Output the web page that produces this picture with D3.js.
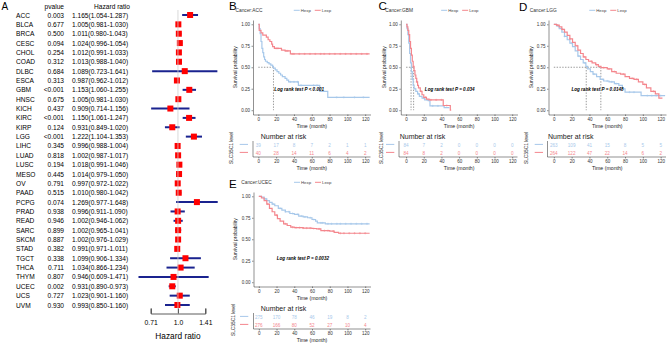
<!DOCTYPE html>
<html>
<head>
<meta charset="utf-8">
<script src="https://cdn.jsdelivr.net/npm/d3@7"></script>
<style>
body { margin: 0; background: #fff; }
svg { display: block; }
text { font-family: "Liberation Sans", Arial, sans-serif; }
</style>
</head>
<body>
<svg id="chart" width="668" height="346"></svg>
<script>
// ---------- panel A data (univariate cox)
const cancers = ["ACC","BLCA","BRCA","CESC","CHOL","COAD","DLBC","ESCA","GBM","HNSC","KICH","KIRC","KIRP","LGG","LIHC","LUAD","LUSC","MESO","OV","PAAD","PCPG","PRAD","READ","SARC","SKCM","STAD","TGCT","THCA","THYM","UCEC","UCS","UVM"];
const pvals = ["0.003","0.677","0.500","0.094","0.254","0.312","0.684","0.313","<0.001","0.675","0.437","<0.001","0.124","<0.001","0.345","0.818","0.194","0.445","0.791","0.515","0.074","0.938","0.946","0.899","0.887","0.382","0.338","0.711","0.807","0.002","0.727","0.930"];
const hr = [1.165,1.005,1.011,1.024,1.012,1.013,1.089,0.987,1.153,1.005,0.909,1.150,0.931,1.222,0.996,1.002,1.018,1.014,0.997,1.010,1.269,0.996,1.002,1.002,1.002,0.991,1.099,1.034,0.946,0.931,1.023,0.993];
const lo = [1.054,0.981,0.980,0.996,0.991,0.988,0.723,0.962,1.060,0.981,0.714,1.061,0.849,1.104,0.988,0.987,0.991,0.979,0.972,0.980,0.977,0.911,0.946,0.965,0.976,0.971,0.906,0.866,0.609,0.890,0.901,0.850];
const hi = [1.287,1.030,1.043,1.054,1.033,1.040,1.641,1.012,1.255,1.030,1.156,1.247,1.020,1.353,1.004,1.017,1.046,1.050,1.022,1.042,1.648,1.090,1.062,1.041,1.029,1.011,1.334,1.234,1.471,0.973,1.160,1.160];
const hrTicks = [0.71, 1.0, 1.41];

// ---------- survival panels data
const months = [0, 20, 40, 60, 80, 100, 120];
const survTicks = [0, 0.25, 0.5, 0.75, 1];

const accH = [[0,1],[1,0.95],[2,0.89],[3,0.80],[4,0.72],[5,0.67],[6,0.62],[7,0.59],[8,0.57],[10,0.555],[12,0.54],[14,0.525],[16,0.51],[17,0.49],[19,0.47],[21,0.45],[23,0.43],[25,0.41],[27,0.39],[30,0.37],[32,0.35],[34,0.33],[45,0.29],[69,0.22],[78,0.15],[125,0.15]];
const accL = [[0,1],[1,0.93],[3,0.90],[5,0.875],[9,0.85],[11,0.82],[13,0.80],[15,0.77],[16,0.74],[18,0.72],[26,0.70],[30,0.69],[36,0.655],[125,0.655]];
const gbmH = [[0,1],[1,0.95],[2,0.88],[3,0.78],[4,0.66],[5,0.55],[6,0.45],[7,0.36],[8,0.29],[9,0.25],[11,0.22],[13,0.19],[15,0.16],[18,0.14],[21,0.12],[25,0.11],[27,0.05],[43,0.03],[49,0.03]];
const gbmL = [[0,1],[1,0.97],[2,0.93],[3,0.88],[4,0.80],[5,0.72],[6,0.64],[7,0.57],[8,0.51],[9,0.46],[10,0.41],[11,0.37],[12,0.33],[13,0.29],[14,0.26],[16,0.22],[18,0.18],[20,0.15],[23,0.13],[26,0.12],[42,0.055],[50,0],[51,0]];
const lggH = [[0,1],[3,0.98],[6,0.95],[9,0.91],[12,0.86],[15,0.82],[18,0.78],[21,0.74],[24,0.69],[27,0.63],[30,0.59],[33,0.55],[36,0.51],[38,0.48],[41,0.45],[44,0.42],[48,0.39],[52,0.36],[56,0.34],[62,0.33],[68,0.31],[73,0.29],[77,0.25],[80,0.21],[98,0.17],[125,0.17]];
const lggL = [[0,1],[3,0.99],[6,0.97],[9,0.94],[12,0.91],[15,0.87],[18,0.83],[21,0.79],[24,0.75],[27,0.70],[30,0.66],[33,0.62],[36,0.59],[39,0.57],[43,0.55],[47,0.53],[50,0.51],[53,0.495],[60,0.48],[65,0.45],[70,0.43],[75,0.42],[80,0.39],[85,0.37],[90,0.36],[95,0.33],[100,0.30],[104,0.26],[109,0.22],[114,0.19],[118,0.14],[122,0.14]];
const ucecH = [[0,1],[3,0.99],[6,0.97],[9,0.95],[12,0.93],[15,0.91],[18,0.89],[22,0.86],[26,0.84],[30,0.82],[35,0.80],[40,0.79],[45,0.77],[50,0.76],[55,0.75],[60,0.73],[64,0.71],[66,0.69],[75,0.68],[125,0.68]];
const ucecL = [[0,1],[3,0.98],[6,0.95],[9,0.91],[12,0.86],[15,0.82],[18,0.78],[21,0.74],[24,0.71],[28,0.68],[32,0.66],[36,0.64],[40,0.635],[50,0.63],[60,0.625],[65,0.62],[70,0.60],[80,0.595],[85,0.58],[90,0.57],[125,0.57]];

// censored times
const accHc = [36, 40, 44, 48, 62, 66, 88, 96, 108, 118];
const accLc = [20, 22, 31, 33, 38, 40, 46, 52, 58, 64, 70, 74, 80, 86, 92, 98, 104, 110, 116, 122];
const gbmHc = [10, 14, 20, 24, 30, 36];
const gbmLc = [12, 17, 22, 28, 34, 40, 46];
const lggHc = [5, 12, 20, 28, 35, 45, 55, 60, 65, 70, 85, 90, 105, 110, 115, 120];
const lggLc = [4, 10, 18, 26, 34, 42, 48, 56, 62, 68, 78, 88, 93, 102, 112];
const ucecHc = [8, 16, 24, 30, 34, 38, 44, 48, 52, 58, 62, 70, 72, 78, 82, 88, 92, 98, 104, 110, 116, 122];
const ucecLc = [10, 20, 30, 38, 42, 46, 50, 54, 58, 62, 68, 74, 78, 84, 92, 96, 102, 108, 114, 120];

// number at risk
const accRiskH = [39, 17, 8, 7, 2, 1, 1];
const accRiskL = [40, 28, 14, 11, 6, 4, 2];
const gbmRiskH = [84, 7, 2, 0, 0, 0, 0];
const gbmRiskL = [84, 8, 2, 0, 0, 0, 0];
const lggRiskH = [263, 109, 41, 15, 8, 5, 5];
const lggRiskL = [264, 122, 47, 22, 14, 6, 2];
const ucecRiskH = [275, 170, 78, 46, 19, 8, 2];
const ucecRiskL = [276, 166, 80, 52, 27, 10, 4];

const blue = "#a7c8ea", red = "#f4868d";

const svg = d3.select("#chart");

// ================= A: forest plot
const fy = d3.scalePoint().domain(cancers).range([15, 305]);
const fx = d3.scaleLog().domain([0.71, 1.41]).range([150.7, 205.3]);
const fs = 6.6;

svg.append("text").attr("x", 1.5).attr("y", 6.7).attr("dominant-baseline", "central")
    .attr("font-size", 10).text("A");
svg.append("text").attr("x", 64).attr("y", 6.5).attr("text-anchor", "end")
    .attr("dominant-baseline", "central").attr("font-size", fs).text("pvalue");
svg.append("text").attr("x", 130).attr("y", 6.5).attr("text-anchor", "end")
    .attr("dominant-baseline", "central").attr("font-size", fs).text("Hazard ratio");

const rows = svg.append("g").selectAll("g").data(cancers).join("g")
    .attr("transform", d => `translate(0,${fy(d)})`);
rows.append("text").attr("x", 16).attr("dominant-baseline", "central")
    .attr("font-size", fs).text(d => d);
rows.append("text").attr("x", 64).attr("text-anchor", "end").attr("dominant-baseline", "central")
    .attr("font-size", fs).text((d, i) => pvals[i]);
rows.append("text").attr("x", 72).attr("dominant-baseline", "central").attr("font-size", fs)
    .text((d, i) => `${hr[i].toFixed(3)}(${lo[i].toFixed(3)}-${hi[i].toFixed(3)})`);

svg.append("line").attr("x1", fx(1)).attr("x2", fx(1)).attr("y1", 10).attr("y2", 313)
    .attr("stroke", "#cfcfcf").attr("stroke-width", 0.8);

rows.append("line").attr("x1", (d, i) => fx(lo[i])).attr("x2", (d, i) => fx(hi[i]))
    .attr("stroke", "#1a238f").attr("stroke-width", 2);
rows.append("rect").attr("x", (d, i) => fx(hr[i]) - 3).attr("y", -3)
    .attr("width", 6).attr("height", 6).attr("fill", "#ff0000");

const fAxis = svg.append("g").attr("transform", "translate(0,313.5)")
    .call(d3.axisBottom(fx).tickValues(hrTicks).tickFormat(d => d === 1 ? "1.0" : d)
        .tickSize(-5).tickSizeOuter(-5).tickPadding(7));
fAxis.selectAll("path,line").attr("stroke", "#333").attr("stroke-width", 0.8);
fAxis.selectAll("text").attr("font-size", 6.8).attr("fill", "#000")
    .attr("font-family", "Liberation Sans, Arial, sans-serif");
svg.append("text").attr("x", fx(1)).attr("y", 336).attr("text-anchor", "middle")
    .attr("dominant-baseline", "central").attr("font-size", 8.3).text("Hazard ratio");

// ================= B-E: survival curves
const panels = [
    {tag: "B", tagX: 229, tagY: 5.5, cancer: "ACC", cancerX: 235.5, left: 253, right: 370.5, dy: 0,
     hexp: accH, lexp: accL, hc: accHc, lc: accLc, riskH: accRiskH, riskL: accRiskL,
     medians: [17], p: "P < 0.001", pAt: [18, 0.24],
     titleX: 260.7, segX: 239.7, slcX: 231.3, spX: 234.7, riskLeft: 253},
    {tag: "C", tagX: 378.5, tagY: 5.5, cancer: "GBM", cancerX: 385.3, left: 400.8, right: 517.5, dy: 0,
     hexp: gbmH, lexp: gbmL, hc: gbmHc, lc: gbmLc, riskH: gbmRiskH, riskL: gbmRiskL,
     medians: [5.6, 8.5], p: "P = 0.034", pAt: [21.2, 0.24],
     titleX: 399.7, segX: 386, slcX: 381.3, spX: 383.5, riskLeft: 399},
    {tag: "D", tagX: 519, tagY: 7, cancer: "LGG", cancerX: 529.7, left: 548.5, right: 666, dy: 0,
     hexp: lggH, lexp: lggL, hc: lggHc, lc: lggLc, riskH: lggRiskH, riskL: lggRiskL,
     medians: [36.4, 52.8], p: "P = 0.0148", pAt: [19.7, 0.24],
     titleX: 548, segX: 534.7, slcX: 526, spX: 531, riskLeft: 547.5},
    {tag: "E", tagX: 229, tagY: 183.7, cancer: "UCEC", cancerX: 241.3, left: 253.5, right: 370.5, dy: 172,
     hexp: ucecH, lexp: ucecL, hc: ucecHc, lc: ucecLc, riskH: ucecRiskH, riskL: ucecRiskL,
     medians: [], p: "P = 0.0032", pAt: [20.2, 0.275],
     titleX: 260.7, segX: 240, slcX: 233, spX: 234.7, riskLeft: 253.5}
];

function survAt(curve, t) {
    let s = curve[0][1];
    for (const p of curve) { if (p[0] <= t) s = p[1]; }
    return s;
}

function styleAxis(g) {
    g.selectAll("path,line").attr("stroke", "#222").attr("stroke-width", 0.5);
    g.selectAll("text").attr("font-size", 4.5).attr("fill", "#333")
        .attr("font-family", "Liberation Sans, Arial, sans-serif");
}

panels.forEach(pn => {
    const g = svg.append("g").attr("transform", `translate(0,${pn.dy})`);
    const top = 20, bottom = 114.5;
    const x = d3.scaleLinear().domain([-6, 126]).range([pn.left, pn.right]);
    const y = d3.scaleLinear().domain([-0.05, 1.05]).range([bottom, top]);

    svg.append("text").attr("x", pn.tagX).attr("y", pn.tagY).attr("dominant-baseline", "central")
        .attr("font-family", "Liberation Serif, Times New Roman, serif").attr("font-size", 11.5)
        .text(pn.tag);
    g.append("text").attr("x", pn.cancerX).attr("y", 10.3).attr("dominant-baseline", "central")
        .attr("font-size", 4.8).attr("fill", "#333").text("Cancer:" + pn.cancer);

    // legend
    const lx = (pn.left + pn.right) / 2 - 18;
    [["Hexp", blue, 0], ["Lexp", red, 21]].forEach(([lab, col, off]) => {
        g.append("line").attr("x1", lx + off).attr("x2", lx + off + 6).attr("y1", 10.3).attr("y2", 10.3)
            .attr("stroke", col).attr("stroke-width", 1);
        g.append("text").attr("x", lx + off + 7).attr("y", 10.3).attr("dominant-baseline", "central")
            .attr("font-size", 4.3).attr("fill", "#444").text(lab);
    });

    // axes
    const ax = g.append("g").attr("transform", `translate(0,${bottom})`)
        .call(d3.axisBottom(x).tickValues(months).tickSize(1.5).tickSizeOuter(0).tickPadding(1.5));
    styleAxis(ax);
    const ay = g.append("g").attr("transform", `translate(${pn.left},0)`)
        .call(d3.axisLeft(y).tickValues(survTicks).tickFormat(d3.format(".2f")).tickSize(1.5).tickSizeOuter(0).tickPadding(1.5));
    styleAxis(ay);

    g.append("text").attr("x", (pn.left + pn.right) / 2).attr("y", 126).attr("text-anchor", "middle")
        .attr("dominant-baseline", "central").attr("font-size", 5.2).attr("fill", "#222").text("Time (month)");
    g.append("text").attr("transform", `translate(${pn.spX},${(top + bottom) / 2}) rotate(-90)`)
        .attr("text-anchor", "middle").attr("dominant-baseline", "central")
        .attr("font-size", 5).attr("fill", "#222").text("Survival probability");

    // median lines
    if (pn.medians.length) {
        g.append("line").attr("x1", x(0)).attr("x2", x(d3.max(pn.medians)))
            .attr("y1", y(0.5)).attr("y2", y(0.5))
            .attr("stroke", "#555").attr("stroke-width", 0.6).attr("stroke-dasharray", "1.4,1.4");
        pn.medians.forEach(m => {
            g.append("line").attr("x1", x(m)).attr("x2", x(m)).attr("y1", y(0.5)).attr("y2", y(0))
                .attr("stroke", "#555").attr("stroke-width", 0.6).attr("stroke-dasharray", "1.4,1.4");
        });
    }

    // curves
    const line = d3.line().x(d => x(d[0])).y(d => y(d[1])).curve(d3.curveStepAfter);
    [[pn.hexp, pn.hc, blue], [pn.lexp, pn.lc, red]].forEach(([curve, cens, col]) => {
        g.append("path").attr("d", line(curve)).attr("fill", "none")
            .attr("stroke", col).attr("stroke-width", 1.2);
        g.append("g").selectAll("path").data(cens).join("path")
            .attr("d", t => {
                const cx = x(t), cy = y(survAt(curve, t));
                return `M${cx - 1.1},${cy}H${cx + 1.1}M${cx},${cy - 1.1}V${cy + 1.1}`;
            })
            .attr("stroke", col).attr("stroke-width", 0.5);
    });

    g.append("text").attr("x", x(pn.pAt[0])).attr("y", y(pn.pAt[1])).attr("dominant-baseline", "central")
        .attr("font-size", 4.6).attr("font-weight", "bold").attr("font-style", "italic")
        .text("Log rank test " + pn.p);

    // risk table
    g.append("text").attr("x", pn.titleX).attr("y", 136).attr("dominant-baseline", "central")
        .attr("font-size", 7).attr("fill", "#222").text("Number at risk");
    const riskY = [145.7, 153.7];
    [[pn.riskH, blue], [pn.riskL, red]].forEach(([vals, col], k) => {
        g.append("g").selectAll("text").data(vals).join("text")
            .attr("x", (d, i) => x(months[i])).attr("y", riskY[k]).attr("text-anchor", "middle")
            .attr("dominant-baseline", "central").attr("font-size", 4.6).attr("fill", col)
            .text(d => d);
        g.append("line").attr("x1", pn.segX).attr("x2", pn.segX + 8.3)
            .attr("y1", riskY[k] - 1.3).attr("y2", riskY[k] - 1.3)
            .attr("stroke", col).attr("stroke-width", 1);
    });
    const rx = d3.scaleLinear().domain([-6, 126]).range([pn.left, pn.right]);
    const rax = g.append("g").attr("transform", "translate(0,157)")
        .call(d3.axisBottom(rx).tickValues(months).tickSize(1.5).tickSizeOuter(0).tickPadding(1.5));
    styleAxis(rax);
    rax.select(".domain").attr("d", `M${pn.riskLeft},0H${pn.right}`);
    g.append("line").attr("x1", pn.riskLeft).attr("x2", pn.riskLeft).attr("y1", 141).attr("y2", 157)
        .attr("stroke", "#222").attr("stroke-width", 0.5);
    g.append("text").attr("x", (pn.left + pn.right) / 2).attr("y", 168).attr("text-anchor", "middle")
        .attr("dominant-baseline", "central").attr("font-size", 5.2).attr("fill", "#222").text("Time (month)");
    g.append("text").attr("transform", `translate(${pn.slcX},148) rotate(-90)`)
        .attr("text-anchor", "middle").attr("dominant-baseline", "central")
        .attr("font-size", 4.8).attr("fill", "#222").text("SLC35C1 level");
});
</script>
</body>
</html>
